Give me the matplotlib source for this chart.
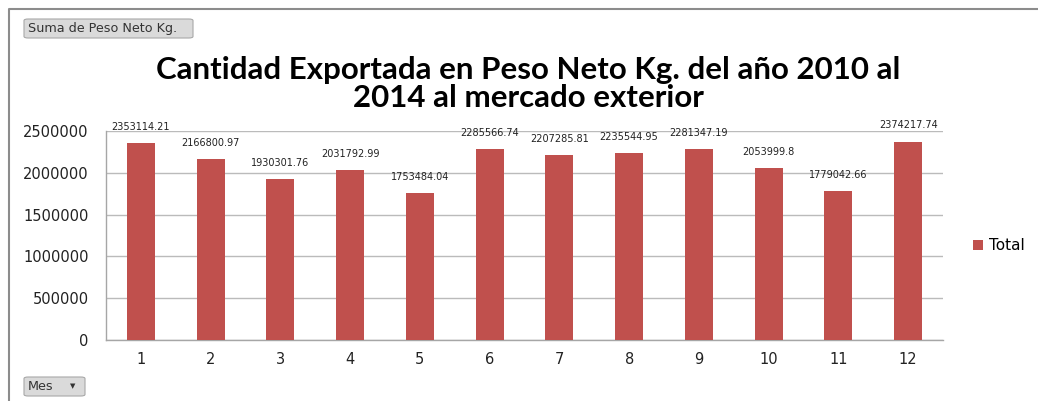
import matplotlib
matplotlib.use("Agg")
import matplotlib.pyplot as plt
from matplotlib.patches import FancyBboxPatch
from matplotlib.lines import Line2D

months = ["1", "2", "3", "4", "5", "6", "7", "8", "9", "10", "11", "12"]
totals = [2353114.21, 2166800.97, 1930301.76, 2031792.99, 1753484.04, 2285566.74,
          2207285.81, 2235544.95, 2281347.19, 2053999.8, 1779042.66, 2374217.74]
labels = ["2353114.21", "2166800.97", "1930301.76", "2031792.99", "1753484.04", "2285566.74",
          "2207285.81", "2235544.95", "2281347.19", "2053999.8", "1779042.66", "2374217.74"]
yticks = [0, 500000, 1000000, 1500000, 2000000, 2500000]

W, H = 1038, 401
fig = plt.figure(figsize=(W / 100, H / 100), dpi=100)
fig.patch.set_facecolor("white")

ax = fig.add_axes([106 / W, 1 - 340 / H, (943 - 106) / W, (340 - 131) / H])
x = list(range(len(months)))
bars = ax.bar(x, totals, width=0.4, color="#C0504D", zorder=3, label="Total")
ax.set_xlim(-0.5, len(months) - 0.5)
ax.set_ylim(0, 2500000)
ax.set_yticks(yticks)
ax.set_yticklabels([str(v) for v in yticks], fontsize=10.5, color="#222222")
ax.set_xticks(x)
ax.set_xticklabels(months, fontsize=10.5, color="#222222")
ax.tick_params(axis="both", length=0)
ax.tick_params(axis="x", pad=9)
ax.tick_params(axis="y", pad=12.5)
ax.grid(axis="y", color="#BBBBBB", linewidth=1, zorder=0)
for s in ["top", "right"]:
    ax.spines[s].set_visible(False)
for s in ["left", "bottom"]:
    ax.spines[s].set_color("#A6A6A6")
    ax.spines[s].set_linewidth(1)

for xi, v, lab in zip(x, totals, labels):
    ax.annotate(lab, (xi, v), xytext=(0, 8), textcoords="offset points",
                ha="center", va="bottom", fontsize=7, color="#222222")

ax.legend(loc="center left", bbox_to_anchor=(1.02, 0.45), frameon=False,
          fontsize=11, handlelength=0.6, handleheight=0.6, handletextpad=0.4)

fig.text(528 / W, 1 - 84 / H, "Cantidad Exportada en Peso Neto Kg. del año 2010 al\n2014 al mercado exterior",
         ha="center", va="center", fontsize=22.5, fontweight="bold", family="Lato",
         linespacing=0.98, color="black")

# outer frame (top and left)
fig.add_artist(Line2D([9 / W, 9 / W, 1.0], [0.0, 1 - 9 / H, 1 - 9 / H],
                      transform=fig.transFigure, color="#8C8C8C", linewidth=1.5))

# field buttons
def button(x0, y0, w, h, text):
    fig.add_artist(FancyBboxPatch((x0 / W, 1 - (y0 + h) / H), w / W, h / H,
                                  boxstyle="round,pad=0,rounding_size=0.004",
                                  transform=fig.transFigure, facecolor="#DADADA",
                                  edgecolor="#A8A8A8", linewidth=0.8))
    fig.text((x0 + 4) / W, 1 - (y0 + h / 2) / H, text, ha="left", va="center",
             fontsize=9.2, color="#333333")

button(24, 19, 169, 19, "Suma de Peso Neto Kg.")
button(24, 377, 61, 19, "Mes")
fig.text(73 / W, 1 - 386 / H, "▼", ha="center", va="center", fontsize=5, color="#333333")

fig.savefig("out.png", dpi=100)
